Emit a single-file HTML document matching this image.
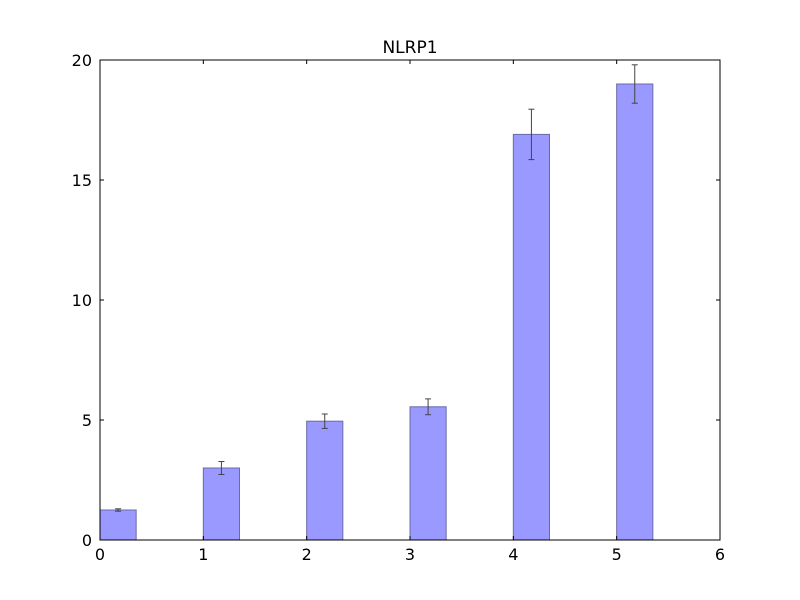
<!DOCTYPE html>
<html><head><meta charset="utf-8"><style>
html,body{margin:0;padding:0;background:#fff;}
svg{display:block;font-family:"DejaVu Sans","Liberation Sans",sans-serif;}
</style></head><body>
<svg id="chart" width="800" height="600" viewBox="0 0 800 600">
<rect x="0" y="0" width="800" height="600" fill="#fff"/>
<text x="410" y="53" font-size="17" text-anchor="middle">NLRP1</text>
<g id="bars"></g>
<g id="axes"></g>
</svg>
<script>
const categories = [0, 1, 2, 3, 4, 5];
const values = [1.25, 3.0, 4.95, 5.55, 16.9, 19.0];
const errors = [0.05, 0.27, 0.3, 0.33, 1.05, 0.8];
const xTicks = [0, 1, 2, 3, 4, 5, 6];
const yTicks = [0, 5, 10, 15, 20];

const L=100,R=720,T=60,B=540, xMin=0,xMax=6,yMin=0,yMax=20, barW=0.35;
const sx=v=>L+(v-xMin)/(xMax-xMin)*(R-L);
const sy=v=>B-(v-yMin)/(yMax-yMin)*(B-T);
const NS="http://www.w3.org/2000/svg";
function mk(tag,attrs,parent){const e=document.createElementNS(NS,tag);for(const k in attrs)e.setAttribute(k,attrs[k]);parent.appendChild(e);return e;}
const gb=document.getElementById('bars'), ga=document.getElementById('axes');
categories.forEach((c,i)=>{
  const x0=sx(c), x1=sx(c+barW), yt=sy(values[i]);
  const r=mk('rect',{x:x0,y:yt,width:x1-x0,height:sy(0)-yt,fill:'#9999ff',stroke:'#6a6aa8','stroke-width':1},gb);
  
  
  const cx=sx(c+barW/2), ya=sy(values[i]+errors[i]), yb=sy(values[i]-errors[i]);
  const g=mk('g',{stroke:'#444','stroke-width':1},gb);
  
  
  mk('line',{x1:cx,x2:cx,y1:ya,y2:yb},g);
  mk('line',{x1:cx-3,x2:cx+3,y1:ya,y2:ya},g);
  mk('line',{x1:cx-3,x2:cx+3,y1:yb,y2:yb},g);
});
const frame=mk('rect',{x:L,y:T,width:R-L,height:B-T,fill:'none',stroke:'#000','stroke-width':1},ga);


xTicks.forEach(t=>{
  const x=sx(t);
  mk('line',{x1:x,x2:x,y1:B,y2:B-4,stroke:'#000'},ga);
  mk('line',{x1:x,x2:x,y1:T,y2:T+4,stroke:'#000'},ga);
  const tx=mk('text',{x:x,y:B+20,'font-size':16,'text-anchor':'middle'},ga);
  tx.textContent=t;
  
  
});
yTicks.forEach(t=>{
  const y=sy(t);
  mk('line',{x1:L,x2:L+4,y1:y,y2:y,stroke:'#000'},ga);
  mk('line',{x1:R,x2:R-4,y1:y,y2:y,stroke:'#000'},ga);
  const tx=mk('text',{x:L-8,y:y+6,'font-size':16,'text-anchor':'end'},ga);
  tx.textContent=t;
  
  
});
</script>
</body></html>
